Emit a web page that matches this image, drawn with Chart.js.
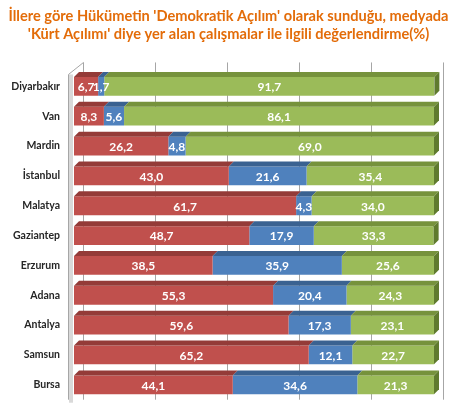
<!DOCTYPE html>
<html>
<head>
<meta charset="utf-8">
<script src="https://cdn.jsdelivr.net/npm/chart.js@4/dist/chart.umd.min.js"></script>
<style>
  html, body { margin: 0; padding: 0; background: #fff; }
  #wrap { width: 457px; height: 420px; }
</style>
</head>
<body>
<div id="wrap"><canvas id="canvas"></canvas></div>
<script>
// Données
const provinces = ["Diyarbakır", "Van", "Mardin", "İstanbul", "Malatya", "Gaziantep",
  "Erzurum", "Adana", "Antalya", "Samsun", "Bursa"];
const redValues = [6.7, 8.3, 26.2, 43.0, 61.7, 48.7, 38.5, 55.3, 59.6, 65.2, 44.1];
const blueValues = [1.7, 5.6, 4.8, 21.6, 4.3, 17.9, 35.9, 20.4, 17.3, 12.1, 34.6];
const greenValues = [91.7, 86.1, 69.0, 35.4, 34.0, 33.3, 25.6, 24.3, 23.1, 22.7, 21.3];
const titleLines = [
  "İllere göre Hükümetin 'Demokratik Açılım' olarak sunduğu, medyada",
  "'Kürt Açılımı' diye yer alan çalışmalar ile ilgili değerlendirme(%)"
];

const faceColors = ["#C0504D", "#4F81BD", "#9BBB59"];
const topColors = ["#943B38", "#3A6291", "#76923C"];
const depth = 5;

// Fond 3D : grille décalée et mur gauche
const backWall = {
  id: "backWall",
  beforeDatasetsDraw(chart) {
    const { ctx, chartArea } = chart;
    const x = chart.scales.x;
    ctx.save();
    ctx.strokeStyle = "#a6a6a6";
    ctx.lineWidth = 1;
    [0, 20, 40, 60, 80, 100].forEach((v) => {
      const px = Math.round(x.getPixelForValue(v)) + 9.5;
      ctx.beginPath();
      ctx.moveTo(px, chartArea.top - 9);
      ctx.lineTo(px, chartArea.bottom);
      ctx.stroke();
    });
    // mur gauche
    ctx.fillStyle = "#d9d9d9";
    ctx.fillRect(chartArea.left - 5, chartArea.top + 3, 4, chartArea.bottom - chartArea.top);
    ctx.strokeStyle = "#a6a6a6";
    ctx.beginPath();
    ctx.moveTo(chartArea.left - 5.5, chartArea.top + 3);
    ctx.lineTo(chartArea.left - 5.5, chartArea.bottom);
    ctx.moveTo(chartArea.left - 5.5, chartArea.top + 3);
    ctx.lineTo(chartArea.left + 9.5, chartArea.top - 9);
    ctx.stroke();
    ctx.restore();
  },
};

// Faces du dessus et bout des barres + étiquettes
const bars3d = {
  id: "bars3d",
  afterDatasetsDraw(chart) {
    const { ctx } = chart;
    ctx.save();
    chart.data.datasets.forEach((ds, di) => {
      const meta = chart.getDatasetMeta(di);
      meta.data.forEach((bar) => {
        const top = bar.y - bar.height / 2;
        const bottom = bar.y + bar.height / 2;
        ctx.fillStyle = topColors[di];
        ctx.beginPath();
        ctx.moveTo(bar.base, top);
        ctx.lineTo(bar.x, top);
        ctx.lineTo(bar.x + depth, top - depth);
        ctx.lineTo(bar.base + depth, top - depth);
        ctx.closePath();
        ctx.fill();
        if (di === chart.data.datasets.length - 1) {
          ctx.fillStyle = "#5f7a2e";
          ctx.beginPath();
          ctx.moveTo(bar.x, top);
          ctx.lineTo(bar.x + depth, top - depth);
          ctx.lineTo(bar.x + depth, bottom - depth);
          ctx.lineTo(bar.x, bottom);
          ctx.closePath();
          ctx.fill();
        }
      });
    });
    ctx.fillStyle = "#fff";
    ctx.font = "bold 12px Lato";
    ctx.textAlign = "center";
    ctx.textBaseline = "middle";
    chart.data.datasets.forEach((ds, di) => {
      const meta = chart.getDatasetMeta(di);
      meta.data.forEach((bar, i) => {
        const label = ds.data[i].toFixed(1).replace(".", ",");
        ctx.fillText(label, (bar.base + bar.x) / 2, bar.y + 1);
      });
    });
    ctx.restore();
  },
};

const ctx = document.getElementById("canvas").getContext("2d");
new Chart(ctx, {
  type: "bar",
  data: {
    labels: provinces,
    datasets: [
      { data: redValues, backgroundColor: faceColors[0] },
      { data: blueValues, backgroundColor: faceColors[1] },
      { data: greenValues, backgroundColor: faceColors[2] },
    ],
  },
  options: {
    indexAxis: "y",
    responsive: true,
    maintainAspectRatio: false,
    animation: false,
    categoryPercentage: 1,
    barPercentage: 0.63,
    layout: { padding: 0 },
    plugins: {
      legend: { display: false },
      tooltip: { enabled: false },
      title: {
        display: true,
        text: titleLines,
        color: "#E36C09",
        font: { family: "Lato", size: 14.6, weight: "bold", lineHeight: 1.18 },
        padding: { top: 8, bottom: 29 },
      },
    },
    scales: {
      x: { stacked: true, min: 0, max: 100, display: false },
      y: {
        stacked: true,
        grid: { display: false, drawTicks: false },
        border: { display: false },
        ticks: {
          color: "#262626",
          font: { family: "Lato", size: 10.5, weight: "bold" },
          padding: 14,
        },
        afterFit(scale) {
          scale.width = 74;
        },
      },
      // marge droite réservée pour la profondeur 3D
      yRight: {
        type: "linear",
        position: "right",
        grid: { display: false, drawTicks: false },
        border: { display: false },
        ticks: { display: false },
        afterFit(scale) {
          scale.width = 23;
        },
      },
    },
  },
  plugins: [backWall, bars3d],
});
</script>
</body>
</html>
